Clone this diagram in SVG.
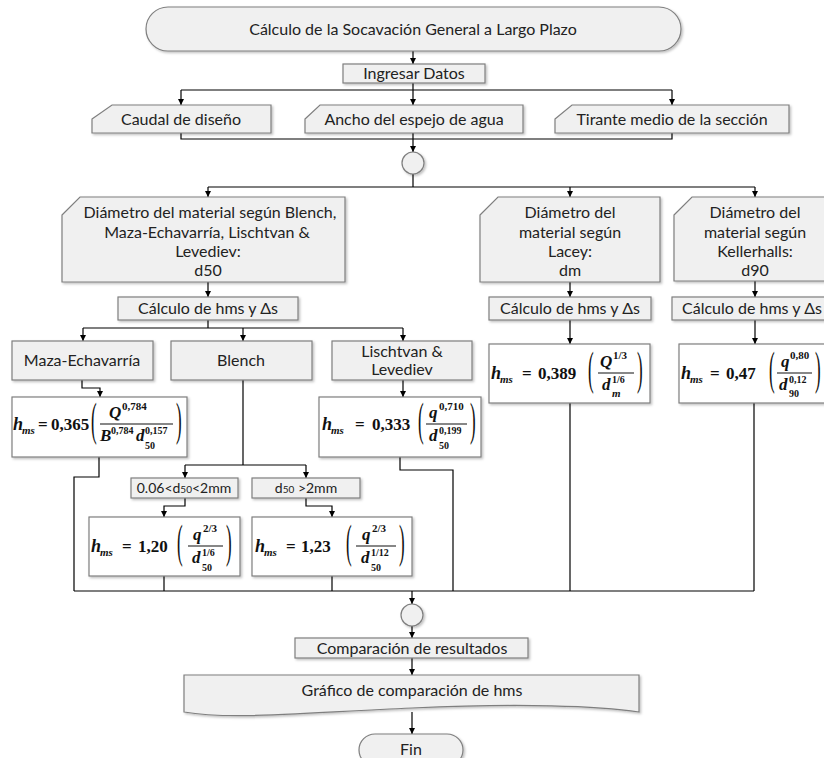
<svg xmlns="http://www.w3.org/2000/svg" width="824" height="758" viewBox="0 0 824 758">
<style>
.n{fill:#f0f0f0;stroke:#7f7f7f;stroke-width:1.2;filter:url(#sh)}
.f{fill:#ffffff;stroke:#7f7f7f;stroke-width:1.2;filter:url(#sh)}
.t{font-family:Lato,"Liberation Sans",sans-serif;font-size:16px;fill:#222;text-anchor:middle}
.ts{font-family:Lato,"Liberation Sans",sans-serif;font-size:14px;fill:#222;text-anchor:middle}
.c{fill:none;stroke:#000;stroke-width:1.2}
.a{fill:none;stroke:#000;stroke-width:1.2;marker-end:url(#arr)}
.m{font-family:"Liberation Serif","DejaVu Serif",serif;font-size:17px;font-weight:bold;fill:#111}
.mi{font-family:"Liberation Serif","DejaVu Serif",serif;font-size:18px;font-weight:bold;font-style:italic;fill:#111}
.ms{font-family:"Liberation Serif","DejaVu Serif",serif;font-size:11px;font-weight:bold;font-style:italic;fill:#111}
.mn{font-family:"Liberation Serif","DejaVu Serif",serif;font-size:10px;font-weight:bold;fill:#111}
.mu{font-family:"Liberation Serif","DejaVu Serif",serif;font-size:11px;font-weight:bold;fill:#111}
.fv{font-family:"Liberation Serif","DejaVu Serif",serif;font-size:17px;font-weight:bold;font-style:italic;fill:#111}
.p{font-family:"Liberation Serif","DejaVu Serif",serif;font-size:17px;fill:#111}
.bar{stroke:#111;stroke-width:1.1}
</style>
<defs>
<filter id="sh" x="-10%" y="-10%" width="130%" height="140%">
<feDropShadow dx="1.5" dy="1.5" stdDeviation="1.2" flood-color="#000" flood-opacity="0.25"/>
</filter>
<marker id="arr" markerWidth="7" markerHeight="7" refX="6" refY="3" orient="auto" markerUnits="userSpaceOnUse">
<path d="M0,0 L6,3 L0,6 z" fill="#000"/>
</marker>
</defs>

<g id="connectors">
<path class="a" d="M413,51 V64"/>
<path class="a" d="M413,83 V105"/>
<path class="c" d="M181,90 H672"/>
<path class="a" d="M181,90 V105"/>
<path class="a" d="M672,90 V105"/>
<path class="c" d="M181,133 V139 H672 V133"/>
<path class="a" d="M413,133 V152"/>
<path class="c" d="M413,174 V187"/>
<path class="c" d="M208,187 H755"/>
<path class="a" d="M208,187 V197"/>
<path class="a" d="M570,187 V197"/>
<path class="a" d="M755,187 V197"/>
<path class="a" d="M208,282 V297"/>
<path class="a" d="M570,282 V297"/>
<path class="a" d="M755,281 V297"/>
<path class="c" d="M208,320 V328"/>
<path class="c" d="M83,328 H403"/>
<path class="a" d="M83,328 V341"/>
<path class="a" d="M243,328 V341"/>
<path class="a" d="M403,328 V341"/>
<path class="a" d="M570,320 V344"/>
<path class="a" d="M755,320 V344"/>
<path class="a" d="M82,380 V388 H100 V397"/>
<path class="a" d="M403,380 V397"/>
<path class="c" d="M243,380 V465"/>
<path class="c" d="M185,465 H306"/>
<path class="a" d="M185,465 V478"/>
<path class="a" d="M306,465 V478"/>
<path class="a" d="M185,498 V506 H164 V517"/>
<path class="a" d="M306,498 V506 H332 V517"/>
<path class="c" d="M99,457 V477 H74 V591"/>
<path class="c" d="M164,576 V591"/>
<path class="c" d="M332,576 V591"/>
<path class="c" d="M400,457 V470 H453 V591"/>
<path class="c" d="M570,403 V591"/>
<path class="c" d="M754,403 V591"/>
<path class="c" d="M74,591 H754"/>
<path class="a" d="M412,591 V604"/>
<path class="a" d="M412,626 V638"/>
<path class="a" d="M412,658 V675"/>
<path class="a" d="M412,712 V734"/>
</g>

<g id="title">
<rect class="n" x="146" y="7" width="535" height="44" rx="22" ry="22"/>
<text class="t" x="413" y="35">Cálculo de la Socavación General a Largo Plazo</text>
</g>

<g id="ingresar">
<rect class="n" x="343" y="64" width="142" height="19"/>
<text class="t" x="414" y="79">Ingresar Datos</text>
</g>

<g id="caudal">
<path class="n" d="M92,119 L112,105 H271 V133 H92 Z"/>
<text class="t" x="181" y="125">Caudal de diseño</text>
</g>

<g id="ancho">
<path class="n" d="M305,119 L320,105 H523 V133 H305 Z"/>
<text class="t" x="414" y="125">Ancho del espejo de agua</text>
</g>

<g id="tirante">
<path class="n" d="M555,119 L572,105 H789 V133 H555 Z"/>
<text class="t" x="672" y="125">Tirante medio de la sección</text>
</g>

<g id="junction1">
<circle class="n" cx="413" cy="163" r="11"/>
</g>

<g id="diam-d50">
<path class="n" d="M62,215 L80,197 H345 V282 H62 Z"/>
<text class="t" x="210" y="218">Diámetro del material según Blench,</text>
<text class="t" x="207" y="238">Maza-Echavarría, Lischtvan &amp;</text>
<text class="t" x="208" y="257">Levediev:</text>
<text class="t" x="208" y="276">d50</text>
</g>

<g id="diam-dm">
<path class="n" d="M480,215 L498,197 H660 V282 H480 Z"/>
<text class="t" x="570" y="218">Diámetro del</text>
<text class="t" x="570" y="238">material según</text>
<text class="t" x="570" y="257">Lacey:</text>
<text class="t" x="570" y="276">dm</text>
</g>

<g id="diam-d90">
<path class="n" d="M674,215 L692,197 H838 V281 H674 Z"/>
<text class="t" x="755" y="218">Diámetro del</text>
<text class="t" x="755" y="238">material según</text>
<text class="t" x="755" y="257">Kellerhalls:</text>
<text class="t" x="755" y="276">d90</text>
</g>

<g id="calc-left">
<rect class="n" x="118" y="297" width="180" height="23"/>
<text class="t" x="208" y="314">Cálculo de hms y Δs</text>
</g>

<g id="calc-lacey">
<rect class="n" x="489" y="297" width="162" height="23"/>
<text class="t" x="570" y="314">Cálculo de hms y Δs</text>
</g>

<g id="calc-keller">
<rect class="n" x="672" y="297" width="166" height="23"/>
<text class="t" x="752" y="314">Cálculo de hms y Δs</text>
</g>

<g id="maza">
<rect class="n" x="12" y="341" width="141" height="39"/>
<text class="t" x="82" y="366">Maza-Echavarría</text>
</g>

<g id="blench">
<rect class="n" x="171" y="341" width="141" height="39"/>
<text class="t" x="241" y="366">Blench</text>
</g>

<g id="lischtvan">
<rect class="n" x="332" y="341" width="140" height="39"/>
<text class="t" x="402" y="357">Lischtvan &amp;</text>
<text class="t" x="402" y="375">Levediev</text>
</g>

<g id="f-maza">
<rect class="f" x="12" y="397" width="175" height="60"/>
<text class="mi" x="13" y="430">h</text>
<text class="ms" x="22" y="434">ms</text>
<text class="m" x="38" y="430">=</text>
<text class="m" x="51" y="430">0,365</text>
<text class="p" transform="translate(91,435) scale(1,2.7)">(</text>
<text class="fv" x="109" y="418">Q</text>
<text class="mu" x="122" y="410">0,784</text>
<line class="bar" x1="100" y1="424" x2="173" y2="424"/>
<text class="fv" x="100" y="441">B</text>
<text class="mn" x="111" y="434">0,784</text>
<text class="fv" x="136" y="441">d</text>
<text class="mn" x="145" y="434">0,157</text>
<text class="mn" x="145" y="449">50</text>
<text class="p" transform="translate(176,435) scale(1,2.7)">)</text>
</g>

<g id="f-lischtvan">
<rect class="f" x="319" y="397" width="162" height="60"/>
<text class="mi" x="322" y="430">h</text>
<text class="ms" x="331" y="434">ms</text>
<text class="m" x="355" y="430">=</text>
<text class="m" x="372" y="430">0,333</text>
<text class="p" transform="translate(418,435) scale(1,2.7)">(</text>
<text class="fv" x="429" y="418">q</text>
<text class="mu" x="439" y="410">0,710</text>
<line class="bar" x1="426" y1="424" x2="467" y2="424"/>
<text class="fv" x="429" y="441">d</text>
<text class="mn" x="439" y="434">0,199</text>
<text class="mn" x="439" y="449">50</text>
<text class="p" transform="translate(470,435) scale(1,2.7)">)</text>
</g>

<g id="f-lacey">
<rect class="f" x="489" y="344" width="161" height="59"/>
<text class="mi" x="491" y="379">h</text>
<text class="ms" x="500" y="383">ms</text>
<text class="m" x="522" y="379">=</text>
<text class="m" x="538" y="379">0,389</text>
<text class="p" transform="translate(588,384) scale(1,2.7)">(</text>
<text class="fv" x="600" y="367">Q</text>
<text class="mu" x="613" y="359">1/3</text>
<line class="bar" x1="598" y1="373" x2="634" y2="373"/>
<text class="fv" x="602" y="390">d</text>
<text class="mn" x="612" y="383">1/6</text>
<text class="ms" x="612" y="397">m</text>
<text class="p" transform="translate(637,384) scale(1,2.7)">)</text>
</g>

<g id="f-keller">
<rect class="f" x="679" y="344" width="162" height="59"/>
<text class="mi" x="681" y="379">h</text>
<text class="ms" x="690" y="383">ms</text>
<text class="m" x="710" y="379">=</text>
<text class="m" x="726" y="379">0,47</text>
<text class="p" transform="translate(769,384) scale(1,2.7)">(</text>
<text class="fv" x="781" y="367">q</text>
<text class="mu" x="790" y="359">0,80</text>
<line class="bar" x1="777" y1="373" x2="812" y2="373"/>
<text class="fv" x="779" y="390">d</text>
<text class="mn" x="789" y="383">0,12</text>
<text class="mn" x="789" y="397">90</text>
<text class="p" transform="translate(815,384) scale(1,2.7)">)</text>
</g>

<g id="cond1">
<rect class="n" x="131" y="478" width="107" height="20"/>
<text class="ts" x="184" y="493">0.06&lt;d<tspan font-size="10">50</tspan>&lt;2mm</text>
</g>

<g id="cond2">
<rect class="n" x="252" y="478" width="108" height="20"/>
<text class="ts" x="306" y="493">d<tspan font-size="10">50</tspan> &gt;2mm</text>
</g>

<g id="f-blench1">
<rect class="f" x="89" y="517" width="151" height="59"/>
<text class="mi" x="91" y="552">h</text>
<text class="ms" x="100" y="556">ms</text>
<text class="m" x="122" y="552">=</text>
<text class="m" x="138" y="552">1,20</text>
<text class="p" transform="translate(177,557) scale(1,2.7)">(</text>
<text class="fv" x="193" y="540">q</text>
<text class="mu" x="203" y="532">2/3</text>
<line class="bar" x1="188" y1="546" x2="223" y2="546"/>
<text class="fv" x="192" y="563">d</text>
<text class="mn" x="202" y="556">1/6</text>
<text class="mn" x="202" y="571">50</text>
<text class="p" transform="translate(226,557) scale(1,2.7)">)</text>
</g>

<g id="f-blench2">
<rect class="f" x="252" y="517" width="160" height="59"/>
<text class="mi" x="255" y="552">h</text>
<text class="ms" x="264" y="556">ms</text>
<text class="m" x="286" y="552">=</text>
<text class="m" x="301" y="552">1,23</text>
<text class="p" transform="translate(346,557) scale(1,2.7)">(</text>
<text class="fv" x="362" y="540">q</text>
<text class="mu" x="372" y="532">2/3</text>
<line class="bar" x1="356" y1="546" x2="396" y2="546"/>
<text class="fv" x="361" y="563">d</text>
<text class="mn" x="371" y="556">1/12</text>
<text class="mn" x="371" y="571">50</text>
<text class="p" transform="translate(399,557) scale(1,2.7)">)</text>
</g>

<g id="junction2">
<circle class="n" cx="412" cy="615" r="11"/>
</g>

<g id="comparacion">
<rect class="n" x="295" y="638" width="233" height="20"/>
<text class="t" x="412" y="654">Comparación de resultados</text>
</g>

<g id="grafico">
<path class="n" d="M184,675 H639 V712 C600,706 520,703 412,708 C300,713 230,720 184,712 Z"/>
<text class="t" x="412" y="696">Gráfico de comparación de hms</text>
</g>

<g id="fin">
<rect class="n" x="359" y="734" width="104" height="32" rx="16" ry="16"/>
<text class="t" x="411" y="755">Fin</text>
</g>
</svg>
